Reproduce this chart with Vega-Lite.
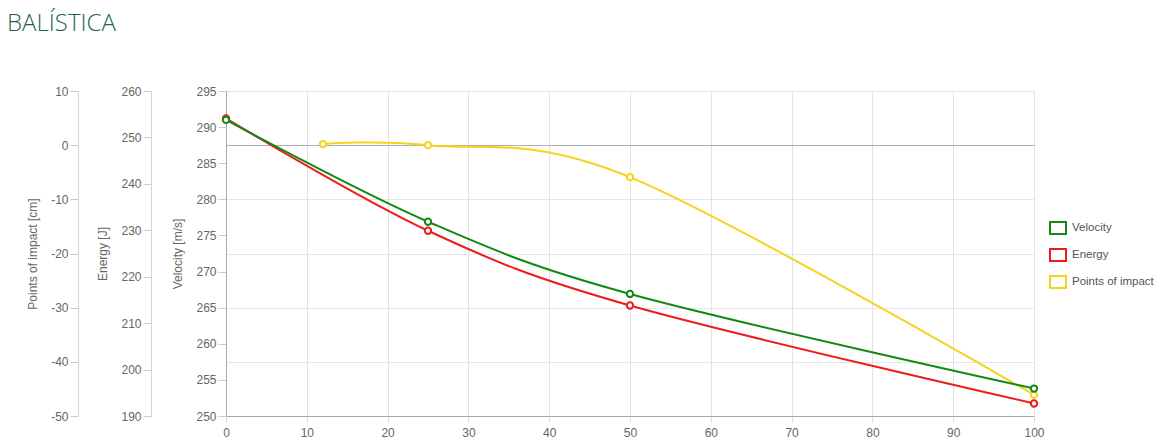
{
  "$schema": "https://vega.github.io/schema/vega-lite/v6.json",
  "width": 808,
  "height": 325,
  "autosize": {"type": "none"},
  "padding": {"left": 226, "top": 91, "right": 129, "bottom": 30},
  "title": {
    "text": "BALÍSTICA",
    "anchor": "start",
    "frame": "group",
    "dx": -219,
    "font": "Open Sans",
    "fontSize": 24,
    "fontWeight": 300,
    "color": "#1f6553",
    "baseline": "alphabetic",
    "offset": 30
  },
  "data": {
    "values": [
      {"distance": 0, "series": "Velocity", "value": 291.0},
      {"distance": 25, "series": "Velocity", "value": 276.9},
      {"distance": 50, "series": "Velocity", "value": 266.9},
      {"distance": 100, "series": "Velocity", "value": 253.8},
      {"distance": 0, "series": "Energy", "value": 254.1},
      {"distance": 25, "series": "Energy", "value": 229.9},
      {"distance": 50, "series": "Energy", "value": 213.8},
      {"distance": 100, "series": "Energy", "value": 192.7},
      {"distance": 12, "series": "Points of impact", "value": 0.2},
      {"distance": 25, "series": "Points of impact", "value": 0.0},
      {"distance": 50, "series": "Points of impact", "value": -5.9},
      {"distance": 100, "series": "Points of impact", "value": -46.1}
    ]
  },
  "encoding": {
    "x": {
      "field": "distance",
      "type": "quantitative",
      "scale": {"domain": [0, 100], "nice": false},
      "axis": {
        "title": null,
        "values": [0, 10, 20, 30, 40, 50, 60, 70, 80, 90, 100],
        "labelFlush": false,
        "tickSize": 6,
        "labelPadding": 5,
        "domainColor": "#aaaaaa",
        "tickColor": "#dddddd",
        "gridColor": "#e3e3e3",
        "labelFontSize": 12,
        "labelColor": "#666666"
      }
    },
    "color": {
      "field": "series",
      "type": "nominal",
      "scale": {
        "domain": ["Velocity", "Energy", "Points of impact"],
        "range": ["#128a12", "#ee1c1c", "#f5d31a"]
      },
      "legend": {
        "orient": "none",
        "legendX": 823,
        "legendY": 128,
        "title": null,
        "padding": 0,
        "symbolType": "M-1,-0.75H1V0.75H-1Z",
        "symbolSize": 256,
        "symbolStrokeWidth": 2,
        "symbolFillColor": "white",
        "labelFontSize": 11.5,
        "labelColor": "#555555",
        "labelOffset": 5,
        "rowPadding": 7
      }
    }
  },
  "layer": [
    {
      "transform": [{"filter": "datum.series === 'Points of impact'"}],
      "mark": {"type": "line", "interpolate": "cardinal", "strokeWidth": 2, "point": {"filled": false, "fill": "white", "size": 40, "strokeWidth": 2}},
      "encoding": {
        "y": {
          "field": "value",
          "type": "quantitative",
          "scale": {"domain": [-50, 10], "nice": false, "zero": false},
          "axis": {
            "orient": "left",
            "offset": 148,
            "title": "Points of impact [cm]",
            "values": [-50, -40, -30, -20, -10, 0, 10],
            "labelExpr": "'' + datum.value",
            "gridColor": {"condition": {"test": "datum.value === 0", "value": "#b0b0b0"}, "value": "#e6e6e6"}
          }
        }
      }
    },
    {
      "transform": [{"filter": "datum.series === 'Energy'"}],
      "mark": {"type": "line", "interpolate": "cardinal", "strokeWidth": 2, "point": {"filled": false, "fill": "white", "size": 40, "strokeWidth": 2}},
      "encoding": {
        "y": {
          "field": "value",
          "type": "quantitative",
          "scale": {"domain": [190, 260], "nice": false, "zero": false},
          "axis": {
            "orient": "left",
            "offset": 75,
            "title": "Energy [J]",
            "values": [190, 200, 210, 220, 230, 240, 250, 260]
          }
        }
      }
    },
    {
      "transform": [{"filter": "datum.series === 'Velocity'"}],
      "mark": {"type": "line", "interpolate": "cardinal", "strokeWidth": 2, "point": {"filled": false, "fill": "white", "size": 40, "strokeWidth": 2}},
      "encoding": {
        "y": {
          "field": "value",
          "type": "quantitative",
          "scale": {"domain": [250, 295], "nice": false, "zero": false},
          "axis": {
            "orient": "left",
            "offset": 0,
            "title": "Velocity [m/s]",
            "domainColor": "#aaaaaa",
            "values": [250, 255, 260, 265, 270, 275, 280, 285, 290, 295]
          }
        }
      }
    }
  ],
  "resolve": {"scale": {"y": "independent"}, "axis": {"y": "independent"}},
  "config": {
    "font": "Liberation Sans",
    "view": {"stroke": null},
    "axisY": {
      "tickSize": 8,
      "labelPadding": 2,
      "labelFontSize": 12,
      "labelColor": "#666666",
      "tickColor": "#cccccc",
      "domainColor": "#d5d5d5",
      "gridColor": "#e6e6e6",
      "titleFontSize": 12,
      "titleColor": "#666666",
      "titleFontWeight": "normal",
      "titlePadding": 11
    }
  }
}
